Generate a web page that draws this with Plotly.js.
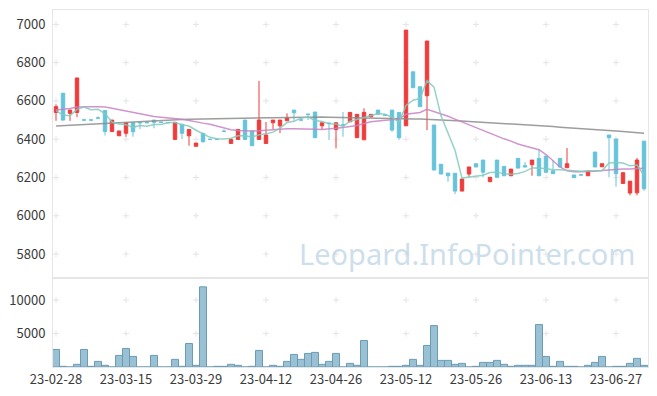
<!DOCTYPE html>
<html><head><meta charset="utf-8">
<script src="https://cdn.plot.ly/plotly-3.0.1.min.js"></script>
<style>html,body{margin:0;padding:0;background:#fff;}#chart{width:657px;height:396px;}</style>
</head><body><div id="chart"></div>
<script>
const dates = ["23-02-28","23-03-02","23-03-03","23-03-06","23-03-07","23-03-08","23-03-09","23-03-10","23-03-13","23-03-14",
"23-03-15","23-03-16","23-03-17","23-03-20","23-03-21","23-03-22","23-03-23","23-03-24","23-03-27","23-03-28",
"23-03-29","23-03-30","23-03-31","23-04-03","23-04-04","23-04-05","23-04-06","23-04-07","23-04-10","23-04-11",
"23-04-12","23-04-13","23-04-14","23-04-17","23-04-18","23-04-19","23-04-20","23-04-21","23-04-24","23-04-25",
"23-04-26","23-04-27","23-04-28","23-05-02","23-05-03","23-05-04","23-05-08","23-05-09","23-05-10","23-05-11",
"23-05-12","23-05-15","23-05-16","23-05-17","23-05-18","23-05-19","23-05-22","23-05-23","23-05-24","23-05-25",
"23-05-26","23-05-30","23-05-31","23-06-01","23-06-02","23-06-05","23-06-07","23-06-08","23-06-09","23-06-12",
"23-06-13","23-06-14","23-06-15","23-06-16","23-06-19","23-06-20","23-06-21","23-06-22","23-06-23","23-06-26",
"23-06-27","23-06-28","23-06-29","23-06-30","23-07-03"];

const opens = [6540,6640,6535,6540,6501,6501,6511,6550,6440,6418,
6431,6486,6487,6487,6500,6489,6487,6399,6478,6418,
6363,6431,6400,6400,6442,6378,6399,6500,6443,6399,
6378,6486,6470,6496,6552,6501,6531,6542,6470,6484,
6451,6475,6491,6408,6397,6517,6552,6526,6552,6540,
6470,6752,6674,6627,6474,6269,6223,6222,6129,6218,
6272,6291,6178,6291,6258,6209,6300,6262,6267,6300,
6312,6235,6300,6251,6213,6214,6209,6333,6256,6422,
6401,6169,6119,6120,6390];
const highs = [6582,6642,6555,6720,6505,6502,6520,6552,6500,6443,
6486,6486,6488,6487,6500,6489,6487,6488,6478,6451,
6380,6431,6400,6400,6451,6405,6451,6500,6443,6704,
6490,6500,6500,6535,6552,6512,6531,6542,6486,6484,
6486,6542,6540,6530,6561,6530,6552,6526,6552,6540,
6970,6752,6674,6913,6474,6269,6223,6222,6192,6255,
6272,6291,6201,6291,6258,6244,6300,6280,6291,6347,
6312,6291,6300,6354,6213,6214,6234,6333,6272,6422,
6401,6225,6181,6302,6390];
const lows = [6496,6498,6496,6515,6500,6500,6510,6420,6440,6418,
6413,6413,6453,6486,6457,6488,6486,6399,6400,6366,
6363,6382,6399,6399,6441,6378,6399,6399,6366,6399,
6378,6451,6432,6496,6496,6496,6500,6408,6451,6396,
6352,6413,6491,6408,6397,6517,6530,6525,6439,6397,
6470,6669,6570,6448,6239,6218,6178,6113,6129,6201,
6255,6201,6178,6201,6209,6209,6249,6255,6209,6209,
6227,6220,6255,6251,6199,6213,6209,6255,6256,6201,
6152,6169,6107,6107,6131];
const closes = [6570,6500,6552,6720,6500,6500,6510,6440,6500,6443,
6486,6439,6486,6486,6488,6488,6486,6488,6431,6451,
6380,6387,6399,6399,6441,6399,6451,6399,6366,6500,
6422,6500,6500,6512,6538,6500,6530,6408,6486,6483,
6486,6474,6540,6530,6540,6530,6530,6525,6448,6408,
6970,6669,6570,6913,6239,6218,6209,6129,6192,6255,
6255,6228,6201,6201,6209,6244,6249,6255,6291,6209,
6227,6220,6255,6272,6199,6213,6234,6255,6272,6408,
6220,6225,6181,6291,6141];
const ma5 = [6549,6526,6523,6556,6568,6554,6556,6534,6490,6479,
6476,6462,6471,6468,6477,6477,6487,6487,6476,6469,
6447,6427,6410,6403,6401,6405,6418,6418,6411,6423,
6428,6437,6458,6487,6494,6510,6516,6498,6492,6481,
6479,6467,6494,6503,6514,6523,6534,6531,6515,6488,
6576,6604,6613,6706,6672,6522,6430,6342,6197,6201,
6208,6212,6226,6228,6219,6217,6221,6232,6250,6250,
6246,6240,6240,6237,6235,6232,6235,6235,6235,6276,
6278,6276,6261,6265,6212];
const ma20 = [6552,6555,6560,6568,6570,6570,6570,6568,6562,6555,
6545,6538,6532,6525,6519,6515,6512,6508,6504,6498,
6490,6484,6478,6468,6458,6450,6446,6444,6443,6444,
6447,6450,6453,6455,6455,6455,6454,6452,6451,6453,
6457,6461,6466,6472,6482,6491,6495,6498,6500,6505,
6530,6536,6540,6556,6545,6535,6520,6505,6490,6475,
6460,6444,6430,6415,6402,6390,6375,6365,6355,6345,
6320,6285,6255,6235,6230,6230,6230,6233,6237,6240,
6243,6244,6245,6246,6248];
const ma60 = [6469,6471,6473,6476,6478,6480,6482,6483,6485,6487,
6488,6490,6492,6494,6496,6498,6500,6501,6503,6504,
6505,6506,6507,6507,6508,6508,6509,6510,6510,6511,
6512,6512,6513,6514,6514,6515,6516,6517,6516,6515,
6514,6512,6511,6510,6509,6509,6508,6508,6507,6507,
6506,6505,6505,6504,6502,6500,6499,6497,6495,6493,
6491,6489,6487,6484,6482,6480,6478,6475,6473,6471,
6468,6466,6463,6461,6458,6456,6453,6451,6449,6446,
6443,6440,6437,6434,6431];
const volumes = [2620,100,0,400,2620,100,840,250,0,1730,
2770,1580,0,0,1730,0,0,1140,100,3510,
250,11980,0,100,100,400,250,0,100,2475,
0,250,100,840,1880,1140,2030,2180,400,840,
2030,0,545,250,3960,0,0,0,100,100,
250,1140,250,3220,6190,990,990,400,545,0,
100,690,690,990,400,100,250,250,250,6340,
1580,100,840,100,100,0,250,690,1580,0,
100,100,545,1290,250];

const priceTicks = [5800,6000,6200,6400,6600,6800,7000];
const volumeTicks = [5000,10000];
const tickStep = 10;

const idx = dates.map((d,i)=>i);
const tickIdx = idx.filter(i=>i%tickStep===0);
const tickText = tickIdx.map(i=>dates[i]);

const font = {family:'"Noto Sans CJK KR","Noto Sans",sans-serif', size:13, color:'#3a3a3a'};
const frame = '#e6e6e6';
const crossColor = '#e4e4e4';

const traces = [
  {type:'bar', x:idx, y:volumes, xaxis:'x2', yaxis:'y2',
   marker:{color:'rgba(128,178,200,0.8)', line:{color:'#6a9cb6', width:1}}, hoverinfo:'skip'},
  {type:'candlestick', x:idx, open:opens, high:highs, low:lows, close:closes,
   increasing:{line:{color:'#ef3b3b', width:1}, fillcolor:'#ef3b3b'},
   decreasing:{line:{color:'#66c3da', width:1}, fillcolor:'#66c3da'},
   whiskerwidth:0, hoverinfo:'skip'},
  {type:'scatter', mode:'lines', x:idx, y:ma60, line:{color:'rgba(140,140,140,0.85)', width:1.5}, hoverinfo:'skip'},
  {type:'scatter', mode:'lines', x:idx, y:ma20, line:{color:'rgba(200,130,195,0.85)', width:1.5}, hoverinfo:'skip'},
  {type:'scatter', mode:'lines', x:idx, y:ma5, line:{color:'rgba(130,202,188,0.85)', width:1.5}, hoverinfo:'skip'}
];

const shapes = [];
function addCross(xi, yv, xref, yref){
  shapes.push({type:'line', layer:'below', xref:xref, yref:yref, xsizemode:'pixel', xanchor:xi,
    x0:-3, x1:3, y0:yv, y1:yv, line:{color:crossColor, width:1}});
  shapes.push({type:'line', layer:'below', xref:xref, yref:yref, ysizemode:'pixel', yanchor:yv,
    y0:-3, y1:3, x0:xi, x1:xi, line:{color:crossColor, width:1}});
}
tickIdx.forEach(xi=>{
  priceTicks.forEach(v=>addCross(xi, v, 'x', 'y'));
  volumeTicks.forEach(v=>addCross(xi, v, 'x2', 'y2'));
});

const xr = [-0.43, 84.57];
const split = 0.2493;
const layout = {
  width:657, height:396,
  margin:{l:53, r:9, t:10, b:29, pad:0},
  paper_bgcolor:'#fff', plot_bgcolor:'#fff',
  showlegend:false, font:font,
  xaxis:{domain:[0,1], anchor:'y', range:xr, showticklabels:false, showgrid:false, zeroline:false,
    showline:true, mirror:true, linecolor:frame, linewidth:1, rangeslider:{visible:false}, fixedrange:true},
  yaxis:{domain:[split,1], anchor:'x', range:[5675,7075], tickvals:priceTicks, ticktext:priceTicks.map(String),
    showgrid:false, zeroline:false, showline:true, mirror:true, linecolor:frame, linewidth:1,
    ticks:'', ticklabelstandoff:4, tickfont:font},
  xaxis2:{domain:[0,1], anchor:'y2', range:xr, tickvals:tickIdx, ticktext:tickText, showgrid:false, zeroline:false,
    showline:true, mirror:true, linecolor:frame, linewidth:1, ticks:'', tickfont:font, tickangle:0},
  yaxis2:{domain:[0,split], anchor:'x2', range:[0,13300], tickvals:volumeTicks, ticktext:volumeTicks.map(String),
    showgrid:false, zeroline:false, showline:true, mirror:true, linecolor:frame, linewidth:1,
    ticks:'', ticklabelstandoff:4, tickfont:font},
  bargap:0,
  shapes:shapes,
  annotations:[{text:'Leopard.InfoPointer.com', xref:'paper', yref:'paper', x:0.696, y:0.319,
    xanchor:'center', yanchor:'middle', showarrow:false,
    font:{family:'"Noto Sans","Open Sans",sans-serif', size:29, color:'rgba(160,195,218,0.55)'}}]
};

Plotly.newPlot('chart', traces, layout, {displayModeBar:false, staticPlot:true});
</script></body></html>
